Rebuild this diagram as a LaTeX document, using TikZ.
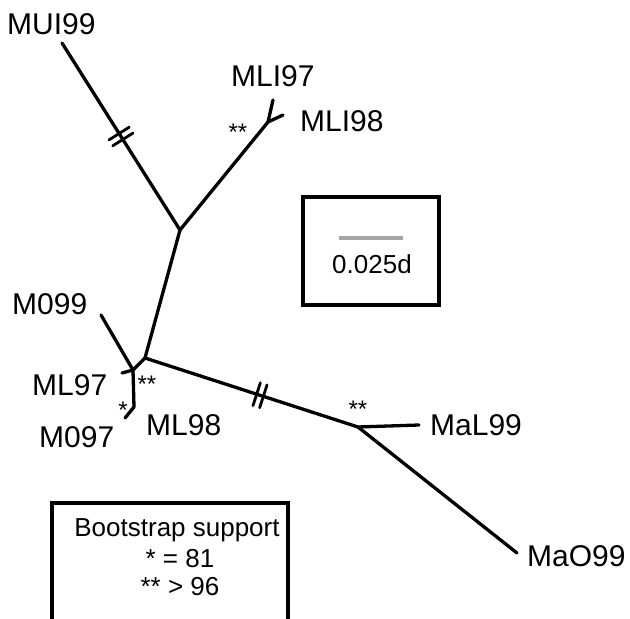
\documentclass[tikz,border=0pt]{standalone}
\usepackage{fontspec}
\setmainfont{Liberation Sans}
\usetikzlibrary{decorations.markings}
\begin{document}
\begin{tikzpicture}[x=1pt,y=-1pt,
  branch/.style={line width=3.3pt, line cap=round},
  lbl/.style={anchor=base west, inner sep=0pt, font=\fontsize{30}{32}\selectfont},
  star/.style={anchor=base, inner sep=0pt, font=\fontsize{24}{26}\selectfont},
  boxtxt/.style={anchor=base, inner sep=0pt, font=\fontsize{26}{28}\selectfont},
  frame/.style={line width=3.3pt},
  hatched/.style={postaction={decorate}, decoration={markings, mark=at position #1 with {\draw[line width=2.8pt] (-3.5pt,-12pt)--(-3.5pt,12pt) (3.5pt,-12pt)--(3.5pt,12pt);}}}]
\useasboundingbox (0,0) rectangle (630,619);
% junctions and tips
\coordinate (muitip) at (62,43);
\coordinate (A) at (180,230);
\coordinate (mli) at (268,122);
\coordinate (mli97tip) at (273,100);
\coordinate (mli98tip) at (283,115);
\coordinate (B) at (145,358);
\coordinate (C) at (133,370);
\coordinate (m099tip) at (101,315);
\coordinate (ml97tip) at (122,373);
\coordinate (E) at (134,407);
\coordinate (m097tip) at (125,418);
\coordinate (D) at (358,427);
\coordinate (mal99tip) at (419,425);
\coordinate (mao99tip) at (517,553);
% branches
\draw[branch, hatched=0.5] (muitip) -- (A);
\draw[branch] (A) -- (mli);
\draw[branch] (mli) -- (mli97tip);
\draw[branch] (mli) -- (mli98tip);
\draw[branch] (A) -- (B);
\draw[branch] (B) -- (C);
\draw[branch] (m099tip) -- (C);
\draw[branch] (ml97tip) -- (C);
\draw[branch] (C) -- (E);
\draw[branch] (E) -- (m097tip);
\draw[branch, hatched=0.54] (B) -- (D);
\draw[branch] (D) -- (mal99tip);
\draw[branch] (D) -- (mao99tip);
% labels
\node[lbl] (lmui99) at (7,34) {MUI99};
\node[lbl] (lmli97) at (231,86) {MLI97};
\node[lbl] (lmli98) at (300,131) {MLI98};
\node[lbl] (lm099) at (12,314) {M099};
\node[lbl] (lml97) at (32,395) {ML97};
\node[lbl] (lml98) at (146,435) {ML98};
\node[lbl] (lm097) at (39,447) {M097};
\node[lbl] (lmal99) at (430,435) {MaL99};
\node[lbl] (lmao99) at (527,566) {MaO99};
% support marks
\node[star] (s1) at (238,140) {**};
\node[star] (s2) at (147,392) {**};
\node[star] (s3) at (123,418) {*};
\node[star] (s4) at (358,417) {**};
% scale box
\node[draw, frame, minimum width=136pt, minimum height=108pt, inner sep=0pt] (scalebox) at (371,251) {};
\coordinate (barl) at (339,238);
\coordinate (barr) at (403,238);
\draw[line width=3.8pt, gray!70] (barl) -- (barr);
\node[boxtxt] (scaletxt) at (372,273) {0.025d};
% bootstrap box
\draw[frame] (52,622) -- (52,503) -- (288,503) -- (288,622);
\node[boxtxt] (bs1) at (177,536) {Bootstrap support};
\node[boxtxt] (bs2) at (180,567) {* = 81};
\node[boxtxt] (bs3) at (180,595) {** > 96};
\end{tikzpicture}
\end{document}
